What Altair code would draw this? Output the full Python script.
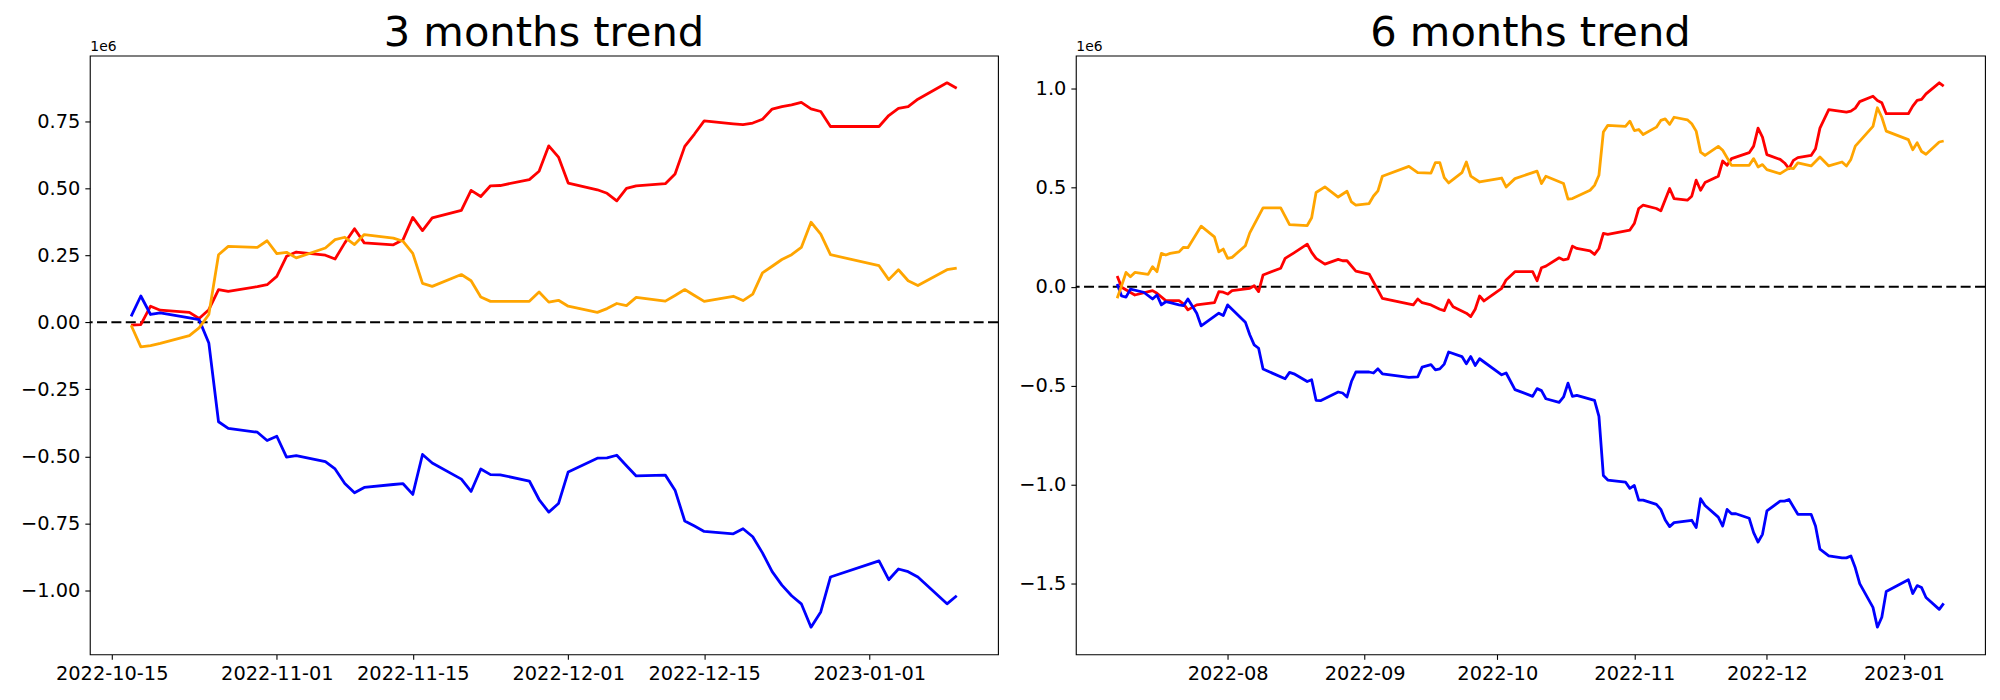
import altair as alt
import pandas as pd

# ---------------- 3 months panel (values in millions) ----------------
m3_dates = [
    "2022-10-17", "2022-10-18", "2022-10-19", "2022-10-20", "2022-10-23", "2022-10-24",
    "2022-10-25", "2022-10-26", "2022-10-27", "2022-10-30", "2022-10-31",
    "2022-11-01", "2022-11-02", "2022-11-03", "2022-11-06", "2022-11-07", "2022-11-08",
    "2022-11-09", "2022-11-10", "2022-11-13", "2022-11-14", "2022-11-15", "2022-11-16",
    "2022-11-17", "2022-11-20", "2022-11-21", "2022-11-22", "2022-11-23", "2022-11-24",
    "2022-11-27", "2022-11-28", "2022-11-29", "2022-11-30",
    "2022-12-01", "2022-12-04", "2022-12-05", "2022-12-06", "2022-12-07", "2022-12-08",
    "2022-12-11", "2022-12-12", "2022-12-13", "2022-12-14", "2022-12-15", "2022-12-18",
    "2022-12-19", "2022-12-20", "2022-12-21", "2022-12-22", "2022-12-23", "2022-12-24",
    "2022-12-25", "2022-12-26", "2022-12-27", "2022-12-28",
    "2023-01-02", "2023-01-03", "2023-01-04", "2023-01-05", "2023-01-06", "2023-01-09",
    "2023-01-10",
]
m3_red = [
    -0.011, -0.009, 0.060, 0.045, 0.037, 0.014, 0.047, 0.122, 0.115, 0.133, 0.140,
    0.171, 0.246, 0.262, 0.250, 0.236, 0.296, 0.349, 0.296, 0.289, 0.308, 0.391, 0.342,
    0.389, 0.417, 0.492, 0.469, 0.509, 0.510, 0.532, 0.563, 0.658, 0.616,
    0.519, 0.494, 0.481, 0.453, 0.499, 0.509, 0.517, 0.553, 0.656, 0.702, 0.751, 0.740,
    0.737, 0.743, 0.757, 0.795, 0.804, 0.811, 0.820, 0.796, 0.786, 0.730,
    0.730, 0.771, 0.798, 0.804, 0.832, 0.893, 0.873,
]
m3_orange = [
    -0.011, -0.092, -0.087, -0.079, -0.050, -0.021, 0.029, 0.252, 0.283, 0.279, 0.304,
    0.256, 0.261, 0.240, 0.277, 0.308, 0.317, 0.290, 0.327, 0.314, 0.302, 0.257, 0.145,
    0.134, 0.178, 0.155, 0.094, 0.078, 0.078, 0.078, 0.113, 0.075, 0.082,
    0.060, 0.037, 0.051, 0.070, 0.062, 0.093, 0.079, 0.100, 0.122, 0.100, 0.078, 0.097,
    0.081, 0.105, 0.184, 0.209, 0.234, 0.252, 0.279, 0.373, 0.329, 0.252,
    0.211, 0.159, 0.196, 0.155, 0.137, 0.196, 0.202,
]
m3_blue = [
    0.022, 0.098, 0.029, 0.035, 0.016, 0.010, -0.077, -0.371, -0.396, -0.410, -0.441,
    -0.425, -0.503, -0.497, -0.520, -0.547, -0.601, -0.636, -0.616, -0.605, -0.602, -0.642, -0.493,
    -0.525, -0.585, -0.631, -0.547, -0.568, -0.569, -0.592, -0.661, -0.708, -0.676,
    -0.558, -0.507, -0.506, -0.496, -0.535, -0.573, -0.570, -0.626, -0.741, -0.760, -0.780, -0.789,
    -0.770, -0.800, -0.860, -0.930, -0.980, -1.020, -1.050, -1.137, -1.080, -0.950,
    -0.890, -0.960, -0.920, -0.930, -0.950, -1.050, -1.020,
]

# ---------------- 6 months panel (values in millions) ----------------
m6_red_dates = [
    "2022-07-07", "2022-07-08", "2022-07-11", "2022-07-15", "2022-07-16", "2022-07-18",
    "2022-07-19", "2022-07-21", "2022-07-22", "2022-07-23", "2022-07-25", "2022-07-29",
    "2022-07-30", "2022-07-31", "2022-08-01", "2022-08-02", "2022-08-06", "2022-08-07",
    "2022-08-08", "2022-08-09", "2022-08-13", "2022-08-14", "2022-08-16", "2022-08-19",
    "2022-08-20", "2022-08-21", "2022-08-23", "2022-08-26", "2022-08-27", "2022-08-28",
    "2022-08-30", "2022-09-02", "2022-09-04", "2022-09-05", "2022-09-12", "2022-09-13",
    "2022-09-14", "2022-09-16", "2022-09-18", "2022-09-19", "2022-09-20", "2022-09-21",
    "2022-09-24", "2022-09-25", "2022-09-26", "2022-09-27", "2022-09-28", "2022-10-02",
    "2022-10-03", "2022-10-05", "2022-10-09", "2022-10-10", "2022-10-11", "2022-10-12",
    "2022-10-15", "2022-10-16", "2022-10-17", "2022-10-18", "2022-10-19", "2022-10-22",
    "2022-10-23", "2022-10-24", "2022-10-25", "2022-10-26", "2022-10-31", "2022-11-01",
    "2022-11-02", "2022-11-03", "2022-11-06", "2022-11-07", "2022-11-09", "2022-11-10",
    "2022-11-13", "2022-11-14", "2022-11-15", "2022-11-16", "2022-11-17", "2022-11-20",
    "2022-11-21", "2022-11-22", "2022-11-23", "2022-11-27", "2022-11-28", "2022-11-29",
    "2022-11-30", "2022-12-01", "2022-12-04", "2022-12-05", "2022-12-06", "2022-12-07",
    "2022-12-08", "2022-12-11", "2022-12-12", "2022-12-13", "2022-12-15", "2022-12-19",
    "2022-12-20", "2022-12-21", "2022-12-22", "2022-12-25", "2022-12-26", "2022-12-27",
    "2022-12-28", "2023-01-02", "2023-01-03", "2023-01-04", "2023-01-05", "2023-01-06",
    "2023-01-09", "2023-01-10",
]
m6_red = [
    0.054, -0.003, -0.042, -0.020, -0.033, -0.070,
    -0.070, -0.070, -0.087, -0.117, -0.092, -0.081,
    -0.025, -0.028, -0.037, -0.020, -0.008, 0.005,
    -0.025, 0.059, 0.093, 0.143, 0.171, 0.215,
    0.173, 0.143, 0.114, 0.138, 0.131, 0.131,
    0.079, 0.064, -0.017, -0.059, -0.092, -0.062,
    -0.081, -0.092, -0.114, -0.121, -0.067, -0.101,
    -0.134, -0.151, -0.114, -0.047, -0.072, -0.008,
    0.034, 0.076, 0.076, 0.030, 0.096, 0.104,
    0.146, 0.135, 0.140, 0.205, 0.193, 0.181,
    0.163, 0.193, 0.269, 0.264, 0.286, 0.319,
    0.395, 0.412, 0.395, 0.383, 0.496, 0.445,
    0.437, 0.457, 0.538, 0.487, 0.526, 0.558,
    0.635, 0.613, 0.647, 0.677, 0.710, 0.801,
    0.756, 0.667, 0.643, 0.625, 0.596, 0.638,
    0.652, 0.663, 0.697, 0.801, 0.894, 0.882,
    0.887, 0.902, 0.935, 0.962, 0.941, 0.929,
    0.874, 0.874, 0.912, 0.941, 0.946, 0.974,
    1.030, 1.013,
]

m6_orange_dates = [
    "2022-07-07", "2022-07-08", "2022-07-09", "2022-07-10", "2022-07-11", "2022-07-14",
    "2022-07-15", "2022-07-16", "2022-07-17", "2022-07-18", "2022-07-19", "2022-07-21",
    "2022-07-22", "2022-07-23", "2022-07-26", "2022-07-29", "2022-07-30", "2022-07-31",
    "2022-08-01", "2022-08-02", "2022-08-05", "2022-08-06", "2022-08-09", "2022-08-13",
    "2022-08-15", "2022-08-19", "2022-08-20", "2022-08-21", "2022-08-23", "2022-08-26",
    "2022-08-28", "2022-08-29", "2022-08-30", "2022-09-02", "2022-09-03", "2022-09-04",
    "2022-09-05", "2022-09-11", "2022-09-13", "2022-09-16", "2022-09-17", "2022-09-18",
    "2022-09-19", "2022-09-20", "2022-09-23", "2022-09-24", "2022-09-25", "2022-09-27",
    "2022-10-02", "2022-10-03", "2022-10-05", "2022-10-10", "2022-10-11", "2022-10-12",
    "2022-10-16", "2022-10-17", "2022-10-18", "2022-10-22", "2022-10-23", "2022-10-24",
    "2022-10-25", "2022-10-26", "2022-10-30", "2022-10-31", "2022-11-01", "2022-11-02",
    "2022-11-03", "2022-11-06", "2022-11-07", "2022-11-08", "2022-11-09", "2022-11-10",
    "2022-11-13", "2022-11-14", "2022-11-15", "2022-11-16", "2022-11-17", "2022-11-20",
    "2022-11-21", "2022-11-23", "2022-11-27", "2022-11-28", "2022-11-29", "2022-11-30",
    "2022-12-01", "2022-12-04", "2022-12-06", "2022-12-07", "2022-12-08", "2022-12-11",
    "2022-12-13", "2022-12-15", "2022-12-18", "2022-12-19", "2022-12-20", "2022-12-21",
    "2022-12-25", "2022-12-26", "2022-12-27", "2022-12-28", "2023-01-02", "2023-01-03",
    "2023-01-04", "2023-01-05", "2023-01-06", "2023-01-09", "2023-01-10",
]
m6_orange = [
    -0.058, 0.005, 0.072, 0.050, 0.072, 0.062,
    0.101, 0.076, 0.168, 0.160, 0.168, 0.176,
    0.199, 0.197, 0.306, 0.252, 0.176, 0.190,
    0.143, 0.148, 0.207, 0.272, 0.398, 0.398,
    0.314, 0.309, 0.348, 0.476, 0.504, 0.453,
    0.482, 0.428, 0.412, 0.420, 0.458, 0.484,
    0.558, 0.608, 0.576, 0.574, 0.627, 0.627,
    0.551, 0.524, 0.576, 0.630, 0.559, 0.529,
    0.549, 0.504, 0.546, 0.584, 0.521, 0.558,
    0.521, 0.442, 0.445, 0.487, 0.512, 0.563,
    0.781, 0.815, 0.810, 0.836, 0.789, 0.794,
    0.769, 0.806, 0.840, 0.848, 0.820, 0.856,
    0.843, 0.823, 0.786, 0.680, 0.663, 0.709,
    0.689, 0.613, 0.613, 0.647, 0.605, 0.617,
    0.591, 0.571, 0.599, 0.596, 0.625, 0.610,
    0.655, 0.610, 0.630, 0.610, 0.643, 0.710,
    0.810, 0.904, 0.856, 0.786, 0.743, 0.692,
    0.727, 0.683, 0.669, 0.731, 0.736,
]

m6_blue_dates = [
    "2022-07-07", "2022-07-08", "2022-07-09", "2022-07-10", "2022-07-13", "2022-07-15",
    "2022-07-16", "2022-07-17", "2022-07-18", "2022-07-19", "2022-07-21", "2022-07-22",
    "2022-07-23", "2022-07-25", "2022-07-26", "2022-07-30", "2022-07-31", "2022-08-01",
    "2022-08-05", "2022-08-06", "2022-08-07", "2022-08-08", "2022-08-09", "2022-08-14",
    "2022-08-15", "2022-08-16", "2022-08-19", "2022-08-20", "2022-08-21", "2022-08-22",
    "2022-08-26", "2022-08-27", "2022-08-28", "2022-08-29", "2022-08-30", "2022-09-02",
    "2022-09-03", "2022-09-04", "2022-09-05", "2022-09-11", "2022-09-13", "2022-09-14",
    "2022-09-16", "2022-09-17", "2022-09-18", "2022-09-19", "2022-09-20", "2022-09-23",
    "2022-09-24", "2022-09-25", "2022-09-26", "2022-09-27", "2022-10-02", "2022-10-03",
    "2022-10-05", "2022-10-09", "2022-10-10", "2022-10-11", "2022-10-12", "2022-10-15",
    "2022-10-16", "2022-10-17", "2022-10-18", "2022-10-19", "2022-10-23", "2022-10-24",
    "2022-10-25", "2022-10-26", "2022-10-30", "2022-10-31", "2022-11-01", "2022-11-02",
    "2022-11-03", "2022-11-06", "2022-11-07", "2022-11-08", "2022-11-09", "2022-11-10",
    "2022-11-14", "2022-11-15", "2022-11-16", "2022-11-17", "2022-11-20", "2022-11-21",
    "2022-11-22", "2022-11-23", "2022-11-24", "2022-11-27", "2022-11-28", "2022-11-29",
    "2022-11-30", "2022-12-01", "2022-12-04", "2022-12-05", "2022-12-06", "2022-12-08",
    "2022-12-11", "2022-12-12", "2022-12-13", "2022-12-15", "2022-12-18", "2022-12-19",
    "2022-12-20", "2022-12-21", "2022-12-22", "2022-12-25", "2022-12-26", "2022-12-27",
    "2022-12-28", "2023-01-02", "2023-01-03", "2023-01-04", "2023-01-05", "2023-01-06",
    "2023-01-09", "2023-01-10",
]
m6_blue = [
    0.014, -0.047, -0.053, -0.012, -0.028, -0.062,
    -0.042, -0.092, -0.076, -0.081, -0.092, -0.096,
    -0.062, -0.134, -0.198, -0.134, -0.146, -0.092,
    -0.179, -0.243, -0.294, -0.311, -0.416, -0.465,
    -0.433, -0.440, -0.479, -0.470, -0.574, -0.576,
    -0.532, -0.537, -0.557, -0.479, -0.431, -0.431,
    -0.436, -0.415, -0.440, -0.458, -0.456, -0.406,
    -0.394, -0.420, -0.415, -0.391, -0.330, -0.353,
    -0.389, -0.353, -0.398, -0.364, -0.445, -0.436,
    -0.520, -0.554, -0.515, -0.525, -0.566, -0.584,
    -0.557, -0.487, -0.554, -0.549, -0.574, -0.655,
    -0.954, -0.977, -0.987, -1.019, -1.004, -1.078,
    -1.078, -1.100, -1.125, -1.179, -1.212, -1.192,
    -1.180, -1.217, -1.071, -1.105, -1.164, -1.209,
    -1.125, -1.147, -1.147, -1.170, -1.242, -1.290,
    -1.251, -1.133, -1.083, -1.083, -1.075, -1.150,
    -1.150, -1.209, -1.326, -1.360, -1.370, -1.370,
    -1.360, -1.420, -1.500, -1.620, -1.720, -1.670,
    -1.540, -1.480, -1.550, -1.510, -1.520, -1.570,
    -1.630, -1.600,
]

m3_xticks = ["2022-10-15", "2022-11-01", "2022-11-15", "2022-12-01", "2022-12-15", "2023-01-01"]
m6_xticks = ["2022-08-01", "2022-09-01", "2022-10-01", "2022-11-01", "2022-12-01", "2023-01-01"]
m3_yticks = [-1.00, -0.75, -0.50, -0.25, 0.00, 0.25, 0.50, 0.75]
m6_yticks = [-1.5, -1.0, -0.5, 0.0, 0.5, 1.0]

SERIES = ["red", "blue", "orange"]
COLORS = {"red": "#ff0000", "orange": "#ffa500", "blue": "#0000ff"}
SCALE = 1e6
FONT = "DejaVu Sans"


def ms(s):
    return int(pd.Timestamp(s, tz="UTC").value // 10**6)


def panel(series, title, yticks, yfmt, xticks, xfmt, width, yextent):
    all_dates = [d for name in series for d in series[name][0]]
    all_vals = [v for name in series for v in series[name][1]]
    t0, t1 = ms(min(all_dates)), ms(max(all_dates))
    dt = t1 - t0
    xdom = [t0 - 0.05 * dt, t1 + 0.05 * dt]
    v0, v1 = min(all_vals) * SCALE, max(all_vals) * SCALE
    dv = v1 - v0
    ydom = [v0 - 0.05 * dv, v1 + 0.05 * dv]

    x_enc = alt.X(
        "date:T",
        title=None,
        scale=alt.Scale(type="utc", domain=xdom, nice=False),
        axis=alt.Axis(
            values=[ms(t) for t in xticks],
            labelExpr=f"utcFormat(datum.value, '{xfmt}')",
            labelFlush=False,
            labelOverlap=False,
        ),
    )
    y_enc = alt.Y(
        "value:Q",
        scale=alt.Scale(domain=ydom, nice=False, zero=False),
        axis=alt.Axis(
            values=[t * SCALE for t in yticks],
            labelExpr=f"format(datum.value / 1000000, '{yfmt}')",
            title="1e6",
            titleAngle=0,
            titleX=0,
            titleY=-5,
            titleAlign="left",
            titleBaseline="alphabetic",
            titleFont=FONT,
            titleFontSize=13.9,
            titleFontWeight="normal",
            titleColor="black",
            minExtent=yextent,
            maxExtent=yextent,
        ),
    )

    zero = alt.Chart(pd.DataFrame({"value": [0.0]})).mark_rule(
        color="black", strokeWidth=2, strokeDash=[10, 4.4]
    ).encode(y=alt.Y("value:Q"))

    layers = [zero]
    for name in SERIES:
        dates, vals = series[name]
        df = pd.DataFrame({"date": dates, "value": [v * SCALE for v in vals]})
        layers.append(
            alt.Chart(df)
            .mark_line(color=COLORS[name], strokeWidth=2.8, strokeJoin="round")
            .encode(x=x_enc, y=y_enc)
        )
    return alt.layer(*layers).properties(
        width=width, height=600, title=alt.TitleParams(title)
    )


left = panel(
    {"red": (m3_dates, m3_red), "orange": (m3_dates, m3_orange), "blue": (m3_dates, m3_blue)},
    "3 months trend", m3_yticks, ".2f", m3_xticks, "%Y-%m-%d", 910, 75,
)
right = panel(
    {
        "red": (m6_red_dates, m6_red),
        "orange": (m6_orange_dates, m6_orange),
        "blue": (m6_blue_dates, m6_blue),
    },
    "6 months trend", m6_yticks, ".1f", m6_xticks, "%Y-%m", 911, 60,
)

chart = (
    alt.hconcat(left, right, spacing=15)
    .properties(padding={"left": 6, "top": 3, "right": 5, "bottom": 5}, background="white")
    .configure_view(stroke="black", strokeWidth=1.1, fill="white")
    .configure_axis(
        labelFont=FONT,
        labelFontSize=19.4,
        labelColor="black",
        tickColor="black",
        tickWidth=1.1,
        tickSize=5,
        labelPadding=5,
        grid=False,
        domain=False,
    )
    .configure_title(
        font=FONT,
        fontSize=41.7,
        fontWeight="normal",
        color="black",
        anchor="middle",
        offset=-15,
    )
)

chart.save("out.html", embed_options={"renderer": "svg", "actions": False})
